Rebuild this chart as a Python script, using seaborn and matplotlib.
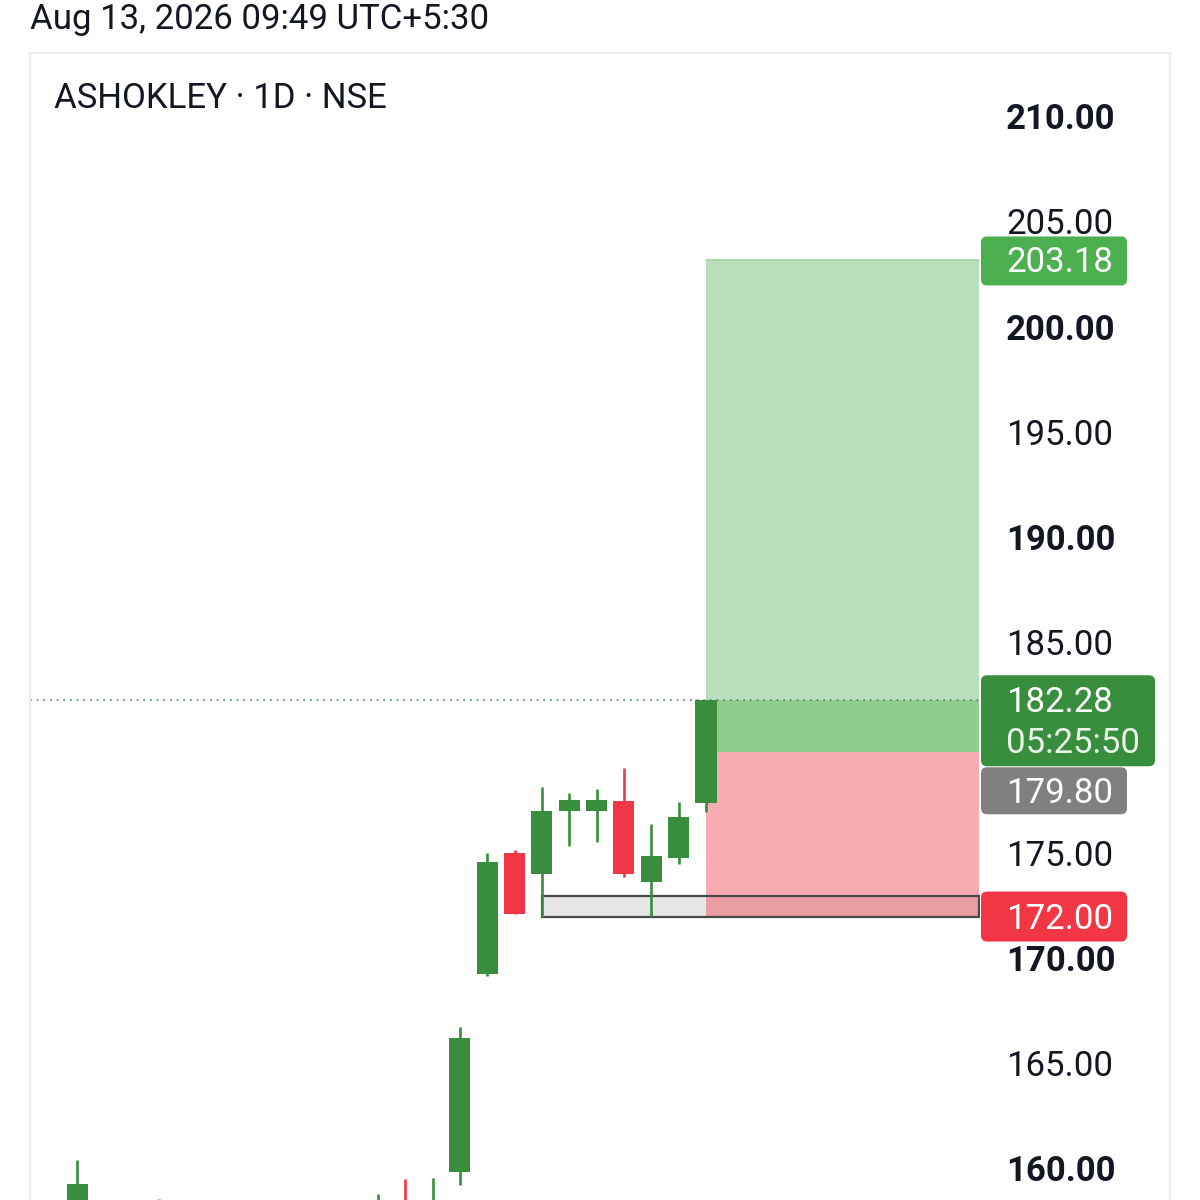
import numpy as np
import pandas as pd
import matplotlib
matplotlib.use('Agg')
import matplotlib.pyplot as plt
import seaborn as sns
from matplotlib.patches import FancyBboxPatch, Rectangle
from matplotlib.lines import Line2D
from matplotlib.transforms import IdentityTransform, blended_transform_factory

header = 'Aug 13, 2026 09:49 UTC+5:30'
title = 'ASHOKLEY · 1D · NSE'

# daily candles (day index, OHLC) - early days sit below the visible range
days = list(range(24))
opens = [156.8, 158.3, 157.0, 158.1, 156.4, 156.9, 157.3, 156.6, 157.0, 156.5, 156.9,
         157.2, 158.4, 157.6, 159.86, 169.27, 175.0, 174.0, 177.0, 177.0, 177.5, 173.65, 174.8, 177.4]
highs = [160.43, 158.5, 158.4, 158.6, 157.6, 157.9, 158.0, 157.5, 157.7, 157.4, 158.0,
         158.8, 159.53, 159.57, 166.75, 175.02, 175.16, 178.16, 177.87, 178.06, 179.06, 176.4, 177.44, 182.28]
lows = [156.2, 156.8, 156.6, 156.5, 155.8, 156.2, 156.5, 155.9, 156.2, 155.9, 156.3,
        156.9, 157.3, 157.2, 159.24, 169.17, 172.1, 172.0, 175.35, 175.54, 173.88, 172.0, 174.5, 176.97]
closes = [159.29, 157.1, 157.9, 156.9, 157.1, 157.5, 156.8, 157.2, 156.6, 157.1, 157.3,
          158.4, 157.6, 158.45, 166.23, 174.59, 172.12, 177.0, 177.54, 177.54, 174.02, 174.88, 176.73, 182.28]

price_ticks = [160, 165, 170, 175, 180, 185, 190, 195, 200, 205, 210]
bold_ticks = [160, 170, 190, 200, 210]
hidden_ticks = [180]

entry = 179.80
target = 203.18
stop = 172.00
last_price = 182.28
countdown = '05:25:50'
zone_low, zone_high = 172.0, 173.0
zone_start = 17
pos_start, pos_end = 23, 33

GREEN = '#388e3c'
RED = '#f23645'

sns.set_theme(style='white')
plt.rcParams['font.family'] = ['Roboto', 'DejaVu Sans']

fig = plt.figure(figsize=(12, 12), dpi=100)
fig.patch.set_facecolor('white')
ax = fig.add_axes([30 / 1200, 0, 950 / 1200, 1147 / 1200])
ax.set_xlim(-1.72, 33.02)
ax.set_ylim(158.53, 213.04)
ax.set_xticks([])
ax.set_yticks([])
sns.despine(ax=ax, left=True, bottom=True)

df = pd.DataFrame({'day': days, 'open': opens, 'high': highs, 'low': lows, 'close': closes})
df['up'] = df['close'] >= df['open']
df['color'] = np.where(df['up'], GREEN, RED)
df['body_lo'] = df[['open', 'close']].min(axis=1)
df['body_h'] = (df['close'] - df['open']).abs().clip(lower=0.15)

# position tool zones
ax.fill_between([zone_start, pos_end], zone_low, zone_high, color='#e6e6e6', zorder=1, lw=0)
ax.fill_between([pos_start, pos_end], entry, target, color='#b7dfb9', zorder=2, lw=0)
ax.fill_between([pos_start, pos_end], entry, last_price, color='#8fcd8f', zorder=2, lw=0)
ax.fill_between([pos_start, pos_end], stop, entry, color=RED, alpha=0.41, zorder=2, lw=0)
ax.plot([pos_start, pos_end], [target, target], color='#a3d4a5', lw=1.2, zorder=3)
ax.add_patch(Rectangle((zone_start, zone_low), pos_end - zone_start, zone_high - zone_low,
                       fill=False, edgecolor='#4a4a4a', lw=1.6, zorder=3))

# candles
ax.vlines(df['day'], df['low'], df['high'], colors=df['color'], lw=1.9, zorder=4)
ax.bar(df['day'], df['body_h'], bottom=df['body_lo'], width=0.77, color=df['color'],
       lw=0, zorder=5)

# last price dotted line
ax.axhline(last_price, color='#4f7d6a', lw=1.2, ls=(0, (1, 3)), zorder=6)

# price scale
blend = blended_transform_factory(ax.transAxes, ax.transData)
for p in price_ticks:
    if p in hidden_ticks:
        continue
    ax.text(1.0274, p - 0.13, f'{p:.2f}', transform=blend, ha='left', va='center', fontsize=25,
            color='#131722', fontweight='bold' if p in bold_ticks else 'normal', clip_on=False)

fig.canvas.draw()


def py(price):
    return ax.transData.transform((0, price))[1]


x0 = ax.transAxes.transform((1.0, 0))[0] + 1
tx = ax.transAxes.transform((1.0274, 0))[0]


def label_box(top, bottom, width, color):
    fig.add_artist(FancyBboxPatch((x0, bottom), width, top - bottom,
                                  boxstyle='round,pad=0,rounding_size=6',
                                  transform=IdentityTransform(), facecolor=color,
                                  edgecolor='none', zorder=10))


def label_text(y, s, color='white'):
    fig.text(tx, y - 2.5, s, transform=IdentityTransform(), ha='left', va='center',
             fontsize=25, color=color, zorder=11)


# target
yt = py(target)
label_box(yt + 24, yt - 25, 146, '#4caf50')
label_text(yt, f'{target:.2f}')

# last price + countdown
yl = py(last_price)
g_top, g_bot = yl + 25, yl - 66
label_box(g_top, g_bot, 174, GREEN)
label_text(yl, f'{last_price:.2f}')
label_text(yl - 41, countdown, '#e8f5e9')

# entry (pushed below the last price label)
e_top = g_bot - 1
label_box(e_top, e_top - 47, 146, '#808080')
label_text(e_top - 23.5, f'{entry:.2f}')

# stop
ys = py(stop)
label_box(ys + 25, ys - 25, 146, RED)
label_text(ys, f'{stop:.2f}')

# panel frame and titles
frame = dict(color='#ececec', lw=1.5, transform=fig.transFigure)
fig.add_artist(Line2D([30 / 1200, 1170 / 1200], [1147 / 1200, 1147 / 1200], **frame))
fig.add_artist(Line2D([30 / 1200, 30 / 1200], [0, 1147 / 1200], **frame))
fig.add_artist(Line2D([1170 / 1200, 1170 / 1200], [0, 1147 / 1200], **frame))

fig.text(30 / 1200, 1 - 20 / 1200, header, ha='left', va='center', fontsize=25, color='#131722')
fig.text(54 / 1200, 1 - 99 / 1200, title, ha='left', va='center', fontsize=25, color='#131722')

fig.savefig('out.png', dpi=100)
